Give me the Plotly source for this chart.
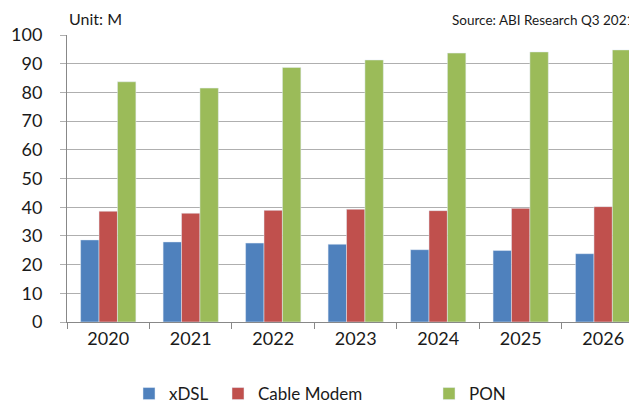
import plotly.graph_objects as go

years = ["2020", "2021", "2022", "2023", "2024", "2025", "2026"]
xdsl = [28.6, 27.9, 27.5, 27.1, 25.2, 24.9, 23.8]
cable = [38.6, 37.9, 38.9, 39.3, 38.8, 39.6, 40.2]
pon = [83.7, 81.5, 88.7, 91.3, 93.7, 94.1, 94.8]
yticks = [0, 10, 20, 30, 40, 50, 60, 70, 80, 90, 100]

FONT = "Lato"
W, H = 637, 403
fig = go.Figure()
fig.add_trace(go.Bar(x=years, y=xdsl, name="xDSL", marker_color="#4F81BD", legend="legend"))
fig.add_trace(go.Bar(x=years, y=cable, name="Cable Modem", marker_color="#C0504D", legend="legend2"))
fig.add_trace(go.Bar(x=years, y=pon, name="PON", marker_color="#9BBB59", legend="legend3"))

leg = dict(orientation="h", yanchor="middle", xanchor="left", bgcolor="rgba(0,0,0,0)",
           xref="container", yref="container",
           font=dict(family=FONT, size=17, color="#1a1a1a"), itemwidth=30)
ly = (H - 386) / H
fig.update_layout(
    width=W, height=H,
    margin=dict(l=59, r=8, t=27, b=89),
    paper_bgcolor="white", plot_bgcolor="white",
    barmode="group", bargap=0.33, bargroupgap=0,
    font=dict(family=FONT, color="#1a1a1a"),
    showlegend=True,
    legend=dict(leg, x=121 / W, y=ly),
    legend2=dict(leg, x=210 / W, y=ly),
    legend3=dict(leg, x=421 / W, y=ly),
    xaxis=dict(type="category", range=[-0.5, 6.41], tickson="boundaries",
               ticks="outside", ticklen=6, tickcolor="#888888", automargin=False,
               showline=True, linecolor="#888888", linewidth=1,
               tickfont=dict(family=FONT, size=18, color="#1a1a1a")),
    yaxis=dict(range=[0, 100], tickvals=yticks, ticks="outside", ticklen=6,
               tickcolor="#AFAFAF", showgrid=True, gridcolor="#AFAFAF", gridwidth=1,
               showline=True, linecolor="#888888", zeroline=False, automargin=False,
               ticklabelstandoff=14,
               tickfont=dict(family=FONT, size=18, color="#1a1a1a")),
    annotations=[
        dict(text="Unit: M", xref="paper", yref="paper", x=0.0, y=1.0, xanchor="left",
             yanchor="bottom", yshift=5, showarrow=False,
             font=dict(family=FONT, size=16, color="#1a1a1a")),
        dict(text="Source: ABI Research Q3 2021", xref="paper", yref="paper", x=1.0, y=1.0,
             xanchor="right", yanchor="bottom", yshift=5, xshift=-1, showarrow=False,
             font=dict(family=FONT, size=13.5, color="#1a1a1a")),
    ],
)
fig.write_html("out.html")
